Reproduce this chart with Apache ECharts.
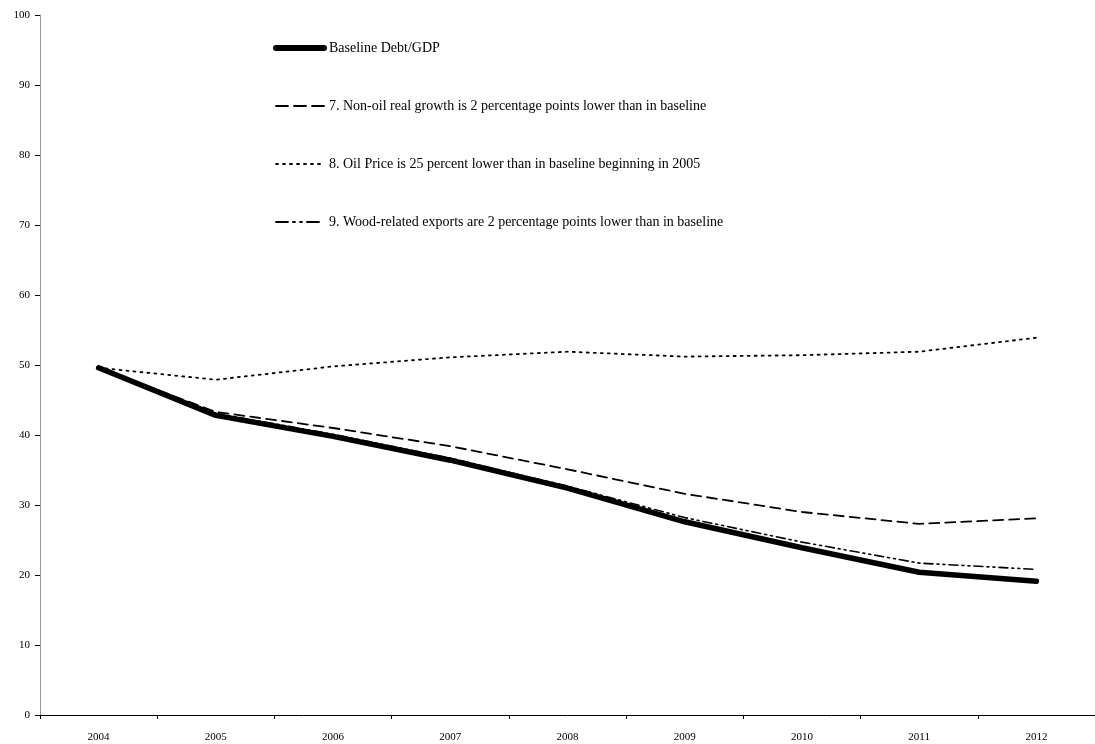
<!DOCTYPE html>
<html><head><meta charset="utf-8">
<script src="https://cdn.jsdelivr.net/npm/echarts@6/dist/echarts.min.js"></script>
<style>html,body{margin:0;padding:0;background:#fff}#c{width:1095px;height:744px}</style>
</head><body><div id="c"></div>
<script>
var years = ['2004','2005','2006','2007','2008','2009','2010','2011','2012'];
var baseline = [49.6, 42.8, 39.8, 36.4, 32.4, 27.6, 23.9, 20.4, 19.1];
var nonOil = [49.6, 43.3, 41.0, 38.4, 35.1, 31.6, 29.0, 27.3, 28.1];
var oilPrice = [49.6, 47.9, 49.8, 51.1, 51.9, 51.2, 51.4, 51.9, 53.9];
var wood = [49.6, 43.1, 40.1, 36.7, 32.7, 28.2, 24.7, 21.7, 20.8];
var names = ['Baseline Debt/GDP',
  '7. Non-oil real growth is 2 percentage points lower than in baseline',
  '8. Oil Price is 25 percent lower than in baseline beginning in 2005',
  '9. Wood-related exports are 2 percentage points lower than in baseline'];
var font = '"Liberation Serif","DejaVu Serif",serif';
var chart = echarts.init(document.getElementById('c'));
function mk(name, data, width, type) {
  return {name: name, type: 'line', data: data, symbol: 'none', smooth: false,
    lineStyle: {color: '#000', width: width, type: type, cap: 'round'},
    itemStyle: {color: '#000'}, emphasis: {disabled: true}, animation: false};
}
var legendData = [
  {name: names[0], lineStyle: {width: 6, type: 'solid', color: '#000'}},
  {name: names[1], lineStyle: {width: 1.8, type: [12, 6], color: '#000'}},
  {name: names[2], lineStyle: {width: 1.8, type: [2, 5], color: '#000'}},
  {name: names[3], lineStyle: {width: 1.8, type: [12, 5, 2, 5, 2, 5], color: '#000'}}
];
chart.setOption({
  animation: false,
  backgroundColor: '#fff',
  grid: {left: 40, right: 0, top: 15, bottom: 29, containLabel: false},
  legend: {orient: 'vertical', left: 268, top: 36, itemWidth: 48, itemHeight: 14, itemGap: 44,
    data: legendData, itemStyle: {color: 'rgba(0,0,0,0)', borderWidth: 0, opacity: 0},
    textStyle: {fontFamily: font, fontSize: 14, color: '#000'}, selectedMode: false},
  xAxis: {type: 'category', data: years, boundaryGap: true,
    axisLine: {lineStyle: {color: '#000', width: 1}},
    axisTick: {show: true, interval: 0, length: 4, lineStyle: {color: '#000'}},
    axisLabel: {fontFamily: font, fontSize: 11, color: '#000', margin: 17}},
  yAxis: {type: 'value', min: 0, max: 100, interval: 10,
    axisLine: {show: true, lineStyle: {color: '#999', width: 1}},
    axisTick: {show: true, length: 5, lineStyle: {color: '#000'}},
    splitLine: {show: false},
    axisLabel: {fontFamily: font, fontSize: 11, color: '#000', margin: 10}},
  series: [
    mk(names[0], baseline, 5.5, 'solid'),
    mk(names[1], nonOil, 1.8, [10, 6]),
    mk(names[2], oilPrice, 1.8, [2, 5]),
    mk(names[3], wood, 1.6, [9, 4, 2, 4, 2, 4])
  ]
});
</script></body></html>
